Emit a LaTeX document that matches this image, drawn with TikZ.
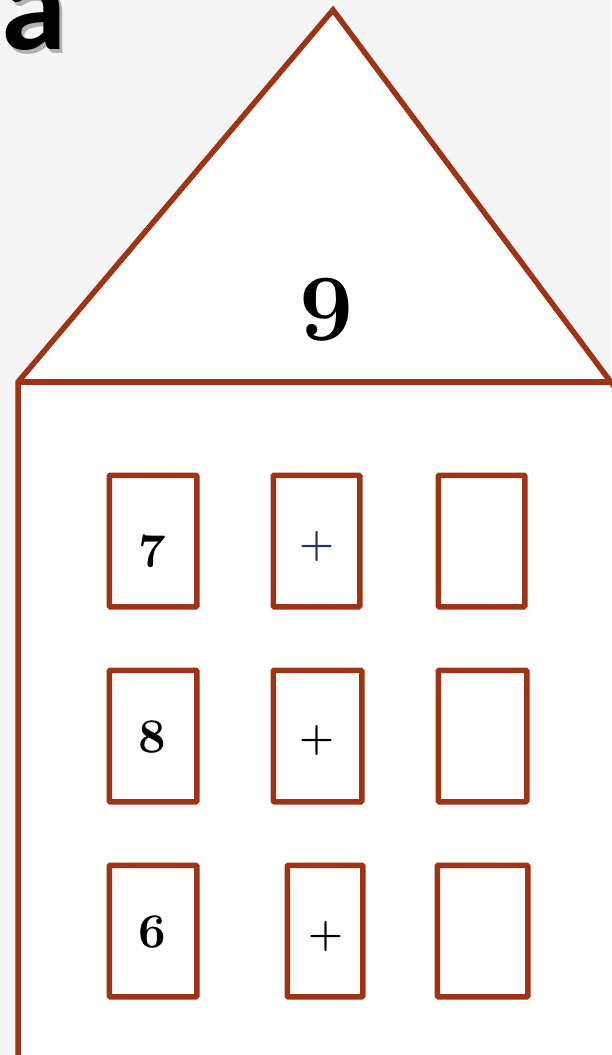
\documentclass[tikz,border=0pt]{standalone}
\usepackage{fix-cm}
\usepackage{fontspec}
\newfontfamily\titlefont{Carlito}
\definecolor{roofline}{RGB}{158, 52, 20}
\definecolor{plusblue}{RGB}{31, 56, 100}
\definecolor{paper}{RGB}{245, 245, 245}
\newcommand\oldnum{\usefont{OML}{cmm}{b}{it}}
\usetikzlibrary{positioning}

\begin{document}
\begin{tikzpicture}[x=1pt, y=-1pt,
    wall/.style={draw=roofline, line width=5.5pt},
    pane/.style={draw=roofline, line width=5.5pt, rounded corners=1pt,
                 minimum height=131.5pt, inner sep=0pt},
    digit/.style={font={\oldnum\fontsize{48}{48}\selectfont}},
    sign/.style={font=\bfseries\fontsize{40}{40}\selectfont}]
    \useasboundingbox[fill=paper] (0,0) rectangle (611,1055);

    % cut-off title letter
    \node[anchor=base west, inner sep=0pt, text=black!30,
          font=\titlefont\bfseries\fontsize{132}{132}\selectfont] (titleshade) at (4,53) {a};
    \node[anchor=base west, inner sep=0pt,
          font=\titlefont\bfseries\fontsize{132}{132}\selectfont] (title) at (1,49) {a};

    % house
    \coordinate (peak) at (333,10);
    \coordinate (eaveL) at (18,382);
    \fill[white] (18,1060) -- (eaveL) -- (peak) -- (625,401) -- (625,1060) -- cycle;
    \draw[wall] (18,1060) -- (eaveL) -- (peak) -- (625,401);
    \draw[wall] (eaveL) -- (625,382);

    \node[digit, font={\oldnum\fontsize{94}{94}\selectfont}] (roofnum) at (327,310) {9};

    % windows
    \node[pane, minimum width=87.5pt] (w11) at (153,541) {};
    \node[pane, minimum width=86.5pt] (w12) at (316.5,541) {};
    \node[pane, minimum width=86.5pt] (w13) at (481.5,541) {};
    \node[pane, minimum width=87.5pt] (w21) at (153,736) {};
    \node[pane, minimum width=88.5pt] (w22) at (317.5,736) {};
    \node[pane, minimum width=88.5pt] (w23) at (482.5,736) {};
    \node[pane, minimum width=87.5pt] (w31) at (153,931) {};
    \node[pane, minimum width=75.5pt] (w32) at (325,931) {};
    \node[pane, minimum width=90.5pt] (w33) at (482.5,931) {};

    \node[digit] (d7) at (152,551) {7};
    \node[sign, text=plusblue] (s1) at (316.5,547) {+};
    \node[digit] (d8) at (152,737) {8};
    \node[sign] (s2) at (317,741) {+};
    \node[digit] (d6) at (152,932) {6};
    \node[sign] (s3) at (326,937) {+};
\end{tikzpicture}
\end{document}
